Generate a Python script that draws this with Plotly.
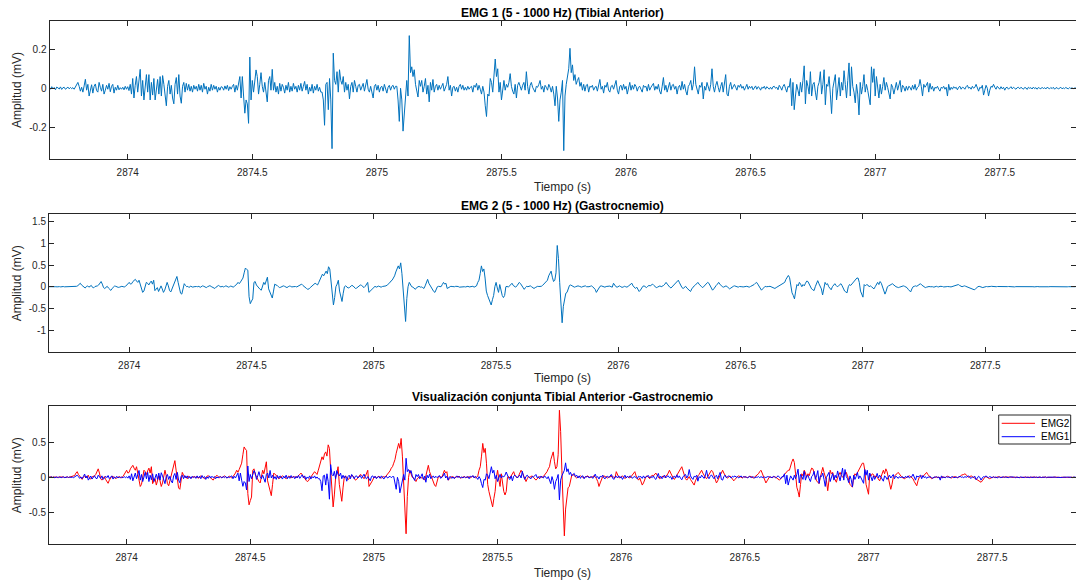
import numpy as np
import plotly.graph_objects as go

# ---------------- data (in microvolts) ----------------
T0 = 2873.67      # s, first sample
DT = 0.005        # s, sample step of the transcription

emg1_uV = [
    2, -3,
    0, 5, -5, 8, -3, 4, -8, 6, 2, -4, 7, -6, 3, 5, -5, 2, 6, -3, 4, -2,
    3, -5, 8, 15, 30, 10, -15, 5, -20, 12, 46, -10, 20, -40, -15, 18, -25, 10, 22, -12,
    -20, 30, 5, -15, 20, -30, -10, 15, -5, 25, -18, 10, 20, -25, 5, -10, 15, -8, 3, -5,
    5, -8, 10, -5, 8, -12, 20, -30, 50, -50, 15, 60, -20, 35, 97, -40, 40, -60, 25, 70,
    -20, 70, -60, 30, -35, 50, -60, 10, 45, -30, 60, -40, 65, 20, -50, -90, 10, 40, -30, 15,
    -50, -80, 20, 55, -30, 70, -40, -77, 10, 30, -20, 25, -10, 20, -15, 10, -20, 15, -5, 10,
    -15, 20, -10, 15, -20, 25, -5, 10, -30, 5, -15, 20, -10, 15, -5, 10, -20, 5, -10, 8,
    5, -10, 12, -5, 15, -12, 8, -5, 10, 20, -20, 15, -10, 25, 60, -50, 60, -40, -128, -60,
    -80, -180, 160, -60, 40, -20, 30, 94, 60, -30, 20, 80, 10, -20, 30, -40, -70, 40, 60, -10,
    97, -10, 30, -20, 10, -30, 25, -15, 20, 5, -25, 15, -10, 30, -20, 10, -15, 25, -5, 10,
    -20, 15, -10, 25, -15, 10, 35, -10, 20, -30, 5, -15, 20, -25, 10, -10, 20, -15, 5, -20,
    -20, -60, -190, 20, 30, -110, 50, -60, -310, 180, 40, 20, 85, -20, 95, 40, 20, 60, -20, 30,
    -10, 20, -55, 10, 30, -20, 40, 10, -20, 15, 20, -10, 5, 25, -15, 10, 45, -5, -20, 10,
    -15, -50, 10, 20, -10, 15, -20, 5, 10, -15, 20, -10, -25, 5, 15, -10, 10, 15, -5, 10,
    10, -60, -170, 0, -60, -220, -140, -80, 40, -40, 270, 80, 110, 60, 95, 20, -10, -45, 40, 10,
    40, -20, 10, 50, -30, 15, -70, 30, -10, 45, -20, 10, 20, -10, 15, -5, 10, 25, -15, 5,
    20, 60, -10, 15, -40, 5, 10, -15, 5, -20, 10, 20, -5, 15, -10, 5, -10, 10, -5, 5,
    10, -20, 15, 5, 25, -10, 15, -5, -30, 10, -20, -90, -145, -30, -40, 50, 30, -20, 80, 150,
    60, 100, -20, 30, -60, 10, 40, -10, 20, 5, 30, 75, 10, -15, -30, 20, -50, 15, 30, 10,
    -10, 15, 30, -10, 85, 10, -30, 15, 30, 5, -10, -20, 10, 5, 20, 40, -5, 10, -20, 15,
    5, -10, 20, 5, -20, 10, -30, -90, 10, -50, -170, -60, -20, 40, -320, -40, 20, 60, 100, 205,
    80, 120, 40, 70, 20, 40, 55, 10, 30, -10, 20, -15, 15, 20, -20, 10, 5, 15, -10, 5,
    10, -15, 20, 45, -5, 10, -25, 15, 5, 30, -10, -20, 10, 15, -5, 20, 40, -10, -30, 10,
    15, -10, 20, -5, 10, -30, 5, 30, -10, 15, -5, 20, 10, -15, 5, 10, -5, -20, 15, 5,
    10, -15, 20, -10, 5, 15, 25, -10, 10, -5, 20, -15, -30, 10, 55, -10, 15, -20, 10, 30,
    -10, 15, 20, -5, 10, -30, 5, 15, -10, 35, -5, 20, -15, -35, 10, 20, 40, -10, 20, 110,
    20, -10, -30, 15, 5, 30, -55, 10, -10, 30, 5, -15, 20, 100, 10, -20, 15, 35, 5, -20,
    10, 30, -20, 15, 70, -30, -40, 10, 30, -5, 10, 20, 5, -10, 15, 5, 20, 0, 10, -10,
    5, 20, -5, 10, 0, 10, -8, 5, 12, -5, 8, 3, -10, 5, 0, 10, -5, 8, 2, -5,
    5, -5, 8, 10, 0, 5, -8, 15, 5, -10, 10, 20, 0, -20, 10, 5, 50, -90, 30, -110,
    -40, 20, -10, -40, 30, -20, 40, 115, -80, 40, 10, -30, 85, -40, 20, 30, -20, -60, 10, 30,
    85, -30, 20, 95, -85, 20, 10, 60, -30, -130, 0, 30, 70, -60, 20, 55, -40, 30, -10, 90,
    20, -50, 40, 130, -40, 110, 10, -20, -75, 20, -30, -137, 30, -30, 10, 70, -20, 20, -10, -50,
    -85, 110, 30, 100, -40, 60, 10, -50, 20, -30, 10, 55, -10, 30, 5, -20, -55, 20, 5, -30,
    10, 30, -10, 15, 40, -20, 15, 5, -15, 10, -10, 10, 5, -10, 15, -5, 20, -10, 5, 10,
    45, 10, -40, 20, 5, 15, 30, -20, 25, -5, 10, -15, 5, 0, 10, -5, -15, 5, 0, 10,
    -5, 5, -40, 20, -10, 5, -5, 8, 0, 5, -8, 5, 10, -5, 5, 3, -5, 8, 15, 0,
    5, -5, 10, 0, 5, 20, -5, -15, 5, 0, 15, -35, -10, 15, 0, -40, -10, 10, 5, 20,
    5, -5, 10, 0, -5, 8, -3, 5, -10, 3, 5, -5, 2, 8, -3, 5, 0, -5, 3, 5,
    -3, 5, 0, -5, 4, 2, -6, 5, 0, 3, -4, 6, -2, 3, -5, 4, 0, -3, 5, -2,
    3, -4, 5, 0, -3, 4, -2, 5, -5, 2, 3, -4, 0, 5, -3, 2, -2, 4, 0, -3,
    3, -1, 2, -2, 1, 4, -3, 0, 2, -4, 3, 1, -2, 4, -1, 0, 3, -3, 2, 0,
]

emg2_uV = [
    0, 2,
    0, 3, -2, 5, 0, -3, 4, 2, -4, 3, 5, -2, 0, 4, -3, 2, 5, -2, 3, 0,
    5, 10, 25, 60, 80, 40, 10, -20, -30, 5, 20, -10, 15, 30, -15, -25, 5, 10, 20, 40,
    90, 120, 60, -20, -40, -10, 10, -30, -70, -85, -40, 0, 15, 10, -5, -15, -10, 5, 10, 0,
    -5, 10, 40, 80, 100, 60, 70, 120, 150, 170, 130, 100, 150, 60, -40, -130, -100, 0, 100, 80,
    40, 90, 130, 60, 150, -90, -40, -20, -110, -60, 20, -50, -130, -80, 40, 100, 20, -90, -120, -40,
    30, 120, 200, 236, 100, -60, -150, -170, -60, 70, 30, 0, 10, -20, 15, 5, -10, 0, 10, 5,
    0, 10, -15, 5, 20, 10, -10, -20, 0, 15, 25, 5, -10, -30, -40, -10, 20, 30, 10, -5,
    10, -5, 5, 20, 10, -10, 0, 15, 5, -10, 10, 30, 60, 100, 70, 110, 150, 200, 320, 430,
    400, 380, -230, -390, -330, -280, 100, 120, 40, 0, -30, -60, -80, 20, 100, 50, 150, 220, -50, -130,
    -200, -260, -100, 60, 40, 30, 0, -20, -10, 10, 20, 10, -10, -20, 0, 15, 10, -5, 0, 10,
    5, -5, 10, 20, 40, 60, 30, 0, -20, -40, -60, -50, -20, 10, 30, 50, 80, 60, 40, 100,
    170, 220, 290, 250, 330, 360, 300, 460, 410, 100, -130, -420, -250, 0, 60, 150, -100, -270, -340, -150,
    0, 20, -10, -30, -20, 10, 30, 20, -10, -40, -30, 0, 20, 40, 30, 0, -20, 10, 50, 100,
    -130, -100, -85, -40, 0, 10, -10, 5, 15, 0, -10, 5, 10, 0, 20, 40, 60, 90, 130, 150,
    200, 250, 340, 400, 480, 410, 550, 300, -100, -450, -800, -270, 0, 100, 50, 0, -10, -40, -60, -20,
    0, 10, -10, -5, -20, -40, 20, 100, 170, 80, 30, 0, -60, -110, -130, -60, 0, 10, 5, 0,
    50, 100, 60, 80, -40, -20, 0, 10, 5, -5, 0, 10, 15, 5, -10, -5, 5, 10, 0, -5,
    0, 10, -5, 5, 15, 10, -10, 0, 20, 100, 150, 300, 480, 350, 410, 200, -100, -200, -270, -350,
    -420, -300, -200, 0, 100, -30, -130, 50, -100, -200, -250, -200, 0, 10, -10, 20, 50, 80, 30, 0,
    -10, 20, 60, 100, 70, 20, -30, -60, -20, 10, 0, 10, 20, 0, -20, -40, -20, 0, 10, 5,
    0, 10, 30, 60, 80, 120, 150, 250, 320, 360, 220, 120, 150, 320, 950, 650, 100, -420, -830, -450,
    -280, -150, -130, -50, 30, 40, 20, 0, -10, 0, 10, 20, 10, 0, -10, 5, 10, 20, 0, -5,
    0, 10, 20, 0, -20, -60, -130, -80, -20, 10, 20, 10, 0, -10, 5, 10, 20, 15, 0, -10,
    80, 40, 0, -10, 10, 20, 0, -15, -5, 10, 0, -10, 10, 30, 60, 80, 20, -20, -40, -10,
    -60, -110, -80, -20, 10, 20, 0, -20, 10, 30, 20, 40, 60, 30, 0, -20, -10, 10, 20, 0,
    10, 30, 60, 100, 60, 20, -10, -30, 0, 20, 40, 80, 100, 150, 90, 30, -20, -40, -10, 10,
    -30, -60, -100, -110, -50, 0, 20, 40, 70, 100, 60, 20, 0, -20, 10, 30, 60, 100, 80, 30,
    -40, -80, -50, 0, 30, 60, 100, 60, 20, 0, -10, 10, 20, 0, -30, -50, -30, 0, 10, 20,
    10, 0, -10, 5, 10, 0, -5, 5, 15, 10, 0, -10, 5, 20, 30, 50, 80, 100, 60, 20,
    -40, -80, -50, -10, 10, 0, -5, 5, 10, 0, -10, -20, -40, -20, 0, 20, 40, 60, 80, 100,
    100, 170, 220, 260, 210, 50, -140, -200, -280, -100, 50, 20, 100, 60, 0, 50, 20, 80, 130, 120,
    50, -20, -50, -70, -90, 0, 80, 140, 70, 0, -50, -190, 0, 100, 50, 70, 0, -40, -70, 0,
    40, 70, 30, 0, 20, 50, 70, 20, -40, -100, -120, -140, 0, 50, 30, 60, 100, 140, 170, 200,
    200, 100, -100, -200, -240, 50, 20, 50, 40, 0, 20, 0, -30, -50, 0, 70, 100, 50, 120, 80,
    -20, -70, -170, -100, 0, 20, 30, 50, 70, 40, 20, 0, -10, -20, -10, 0, 10, 20, 10, 0,
    -20, -60, -100, -120, -50, 0, 10, 20, 10, 30, 50, 70, 40, 20, 0, -20, -10, 0, 5, 0,
    5, 0, -10, 5, 10, 0, -5, 10, 15, 5, -5, -10, 0, 5, 10, 0, -5, 5, 10, 30,
    30, 40, 50, 30, 10, 0, 10, 20, 10, 0, -10, -20, -30, -40, -50, -70, -50, -20, 0, 10,
    0, -10, -20, -10, 0, 5, 0, -5, 5, 10, 5, 0, -5, 0, 5, 3, 0, -3, 2, 5,
    0, -3, 2, 5, 0, -2, 3, 0, -4, 2, 3, 0, -2, 4, 1, -2, 0, 3, -1, 2,
    0, -2, 3, 1, -3, 2, 0, 4, -1, -3, 2, 0, 1, -2, 3, 0, -1, 2, 1, -2,
    0, 2, -1, 1, 0, -3, 2, 1, -1, 3, 0, -2, 1, 2, -1, 0, 2, -2, 1, 0,
]

x_ticks = [2874, 2874.5, 2875, 2875.5, 2876, 2876.5, 2877, 2877.5]
x_tick_labels = ["2874", "2874.5", "2875", "2875.5", "2876", "2876.5", "2877", "2877.5"]
y1_ticks = [-0.2, 0, 0.2]
y1_tick_labels = ["-0.2", "0", "0.2"]
y2_ticks = [-1, -0.5, 0, 0.5, 1, 1.5]
y2_tick_labels = ["-1", "-0.5", "0", "0.5", "1", "1.5"]
y3_ticks = [-0.5, 0, 0.5]
y3_tick_labels = ["-0.5", "0", "0.5"]

titles = ["EMG 1 (5 - 1000 Hz) (Tibial Anterior)",
          "EMG 2 (5 - 1000 Hz) (Gastrocnemio)",
          "Visualización conjunta Tibial Anterior -Gastrocnemio"]
x_label = "Tiempo (s)"
y_label = "Amplitud (mV)"
legend_names = ["EMG2", "EMG1"]
legend_colors = ["#FF0000", "#0000FF"]

# ---------------- build ----------------
emg1 = np.array(emg1_uV, dtype=float) / 1000.0
emg2 = np.array(emg2_uV, dtype=float) / 1000.0
t1 = T0 + DT * np.arange(len(emg1))
t2 = T0 + DT * np.arange(len(emg2))

W, H = 1076, 583
FONT = "Liberation Sans, Arial, Helvetica, sans-serif"
AX = "#262626"
MATLAB_BLUE = "#0072BD"

fig = go.Figure()
fig.add_trace(go.Scatter(x=t1, y=emg1, mode="lines", line=dict(color=MATLAB_BLUE, width=1),
                         showlegend=False, xaxis="x", yaxis="y"))
fig.add_trace(go.Scatter(x=t2, y=emg2, mode="lines", line=dict(color=MATLAB_BLUE, width=1),
                         showlegend=False, xaxis="x2", yaxis="y2"))
fig.add_trace(go.Scatter(x=t2, y=emg2, mode="lines", name=legend_names[0],
                         line=dict(color=legend_colors[0], width=1),
                         showlegend=False, xaxis="x3", yaxis="y3"))
fig.add_trace(go.Scatter(x=t1, y=emg1, mode="lines", name=legend_names[1],
                         line=dict(color=legend_colors[1], width=1),
                         showlegend=False, xaxis="x3", yaxis="y3"))

# pixel boxes (left, right, top, bottom)
boxes = [(49.5, 1075.5, 21, 159), (49, 1075.5, 214.3, 352.3), (49, 1075.5, 406, 544.3)]
xranges = [[2873.686, 2877.804], [2873.672, 2877.869], [2873.686, 2877.837]]
yranges = [[-0.363, 0.345], [-1.51, 1.668], [-0.949, 1.01]]
yticks = [(y1_ticks, y1_tick_labels), (y2_ticks, y2_tick_labels), (y3_ticks, y3_tick_labels)]

common = dict(showgrid=False, zeroline=False, showline=True, linecolor=AX, linewidth=1,
              mirror="ticks", ticks="inside", ticklen=5, tickwidth=1, tickcolor=AX,
              tickfont=dict(family=FONT, size=10, color=AX))

layout = dict(width=W, height=H, margin=dict(l=0, r=0, t=0, b=0),
              paper_bgcolor="white", plot_bgcolor="white", showlegend=False)
annotations = []
shapes = []
for i, (l, r, tp, bt) in enumerate(boxes):
    sfx = "" if i == 0 else str(i + 1)
    layout["xaxis" + sfx] = dict(domain=[l / W, r / W], range=xranges[i], anchor="y" + sfx,
                                 tickvals=x_ticks, ticktext=x_tick_labels, ticklabelstandoff=4,
                                 **common)
    layout["yaxis" + sfx] = dict(domain=[1 - bt / H, 1 - tp / H], range=yranges[i], anchor="x" + sfx,
                                 tickvals=yticks[i][0], ticktext=yticks[i][1], **common)

title_y = [12.7, 206, 397.3]
xlab_y = [186.7, 378.3, 572.7]
for i, (l, r, tp, bt) in enumerate(boxes):
    cx = (l + r) / 2 / W
    annotations.append(dict(text="<b>%s</b>" % titles[i], x=cx, y=1 - title_y[i] / H, xref="paper", yref="paper",
                            xanchor="center", yanchor="middle", showarrow=False,
                            font=dict(family=FONT, size=12, color="#000000")))
    annotations.append(dict(text=x_label, x=cx, y=1 - xlab_y[i] / H, xref="paper", yref="paper",
                            xanchor="center", yanchor="middle", showarrow=False,
                            font=dict(family=FONT, size=12, color=AX)))
    annotations.append(dict(text=y_label, x=17 / W, y=1 - (tp + bt) / 2 / H, xref="paper", yref="paper",
                            xanchor="center", yanchor="middle", textangle=-90, showarrow=False,
                            font=dict(family=FONT, size=12, color=AX)))

# MATLAB-style compact legend box (bottom panel, top-right)
lg_l, lg_r, lg_t, lg_b = 998.7, 1070.7, 415, 444
shapes.append(dict(type="rect", xref="paper", yref="paper", x0=lg_l / W, x1=lg_r / W,
                   y0=1 - lg_b / H, y1=1 - lg_t / H, line=dict(color=AX, width=1), fillcolor="white",
                   layer="above"))
entry_y = [423.3, 436.7]
for name, col, ey in zip(legend_names, legend_colors, entry_y):
    shapes.append(dict(type="line", xref="paper", yref="paper", x0=1001.7 / W, x1=1035 / W,
                       y0=1 - ey / H, y1=1 - ey / H, line=dict(color=col, width=1), layer="above"))
    annotations.append(dict(text=name, x=1039 / W, y=1 - ey / H, xref="paper", yref="paper",
                            xanchor="left", yanchor="middle", showarrow=False,
                            font=dict(family=FONT, size=10, color="#000000")))

layout["annotations"] = annotations
layout["shapes"] = shapes
fig.update_layout(**layout)
fig.write_html("out.html")
